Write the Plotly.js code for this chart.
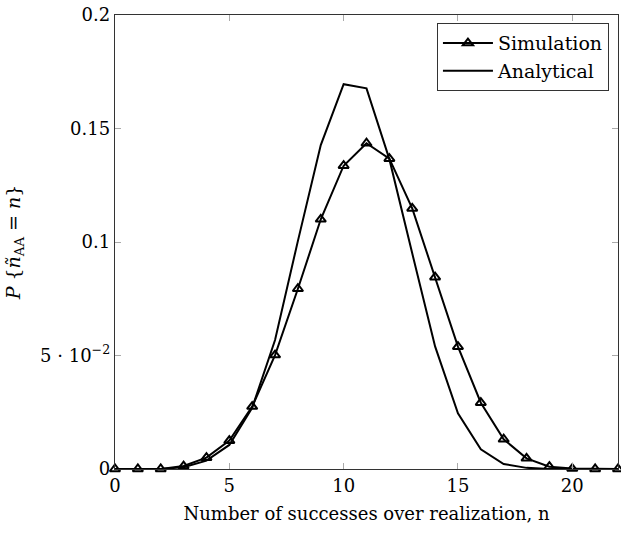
<!DOCTYPE html>
<html>
<head>
<meta charset="utf-8">
<script src="https://cdn.plot.ly/plotly-3.0.1.min.js"></script>
<style>html,body{margin:0;padding:0;background:#fff;}#chart{width:621px;height:542px;}</style>
</head>
<body>
<div id="chart"></div>
<script>
var n = [0,1,2,3,4,5,6,7,8,9,10,11,12,13,14,15,16,17,18,19,20,21,22];
var simulation = [0,0,0,0.0013,0.005,0.0125,0.0275,0.0502,0.0794,0.110,0.1336,0.1435,0.1367,0.1148,0.0845,0.0539,0.0292,0.0131,0.0047,0.001,0.0002,0,0];
var analytical = [0,0,0,0.0008,0.0037,0.0106,0.027,0.0568,0.1005,0.1427,0.1695,0.1677,0.1365,0.095,0.054,0.0245,0.0087,0.0022,0.0005,0,0,0,0];
var yTickVals = [0,0.05,0.1,0.15,0.2];
var yTickText = ['0','5 · 10<sup>−2</sup>','0.1','0.15','0.2'];
var xTickVals = [0,5,10,15,20];

var fam = 'DejaVu Serif, Liberation Serif, serif';
var font = {family:fam, size:18, color:'#000'};

var traces = [
  {x:n, y:simulation, name:'Simulation', mode:'lines+markers', cliponaxis:false,
   line:{color:'#000', width:2},
   marker:{symbol:'triangle-up-open', size:9, color:'#000', line:{color:'#000', width:2}}},
  {x:n, y:analytical, name:'Analytical', mode:'lines', cliponaxis:false,
   line:{color:'#000', width:2}}
];

var layout = {
  width:621, height:542,
  margin:{l:115, r:3, t:15, b:73},
  paper_bgcolor:'#fff', plot_bgcolor:'#fff',
  font:font,
  showlegend:true,
  legend:{x:0.982, y:0.982, xanchor:'right', yanchor:'top', bordercolor:'#333', borderwidth:1,
          bgcolor:'#fff', itemwidth:50, font:{family:fam, size:19, color:'#000'}, tracegroupgap:0},
  xaxis:{range:[0,22], tickvals:xTickVals, ticks:'inside', ticklen:6, tickcolor:'#aaa', tickwidth:1,
         showline:true, linecolor:'#333', linewidth:1.2, mirror:'ticks', showgrid:false, zeroline:false,
         tickfont:{family:fam, size:18, color:'#000'},
         title:{text:'Number of successes over realization, n', font:{family:fam, size:18, color:'#000'}, standoff:12}},
  yaxis:{range:[0,0.2], tickvals:yTickVals, ticktext:yTickText, ticks:'inside', ticklen:6, tickcolor:'#aaa', tickwidth:1,
         showline:true, linecolor:'#333', linewidth:1.2, mirror:'ticks', showgrid:false, zeroline:false,
         tickfont:{family:fam, size:18, color:'#000'},
         title:{text:'<i>P</i> {<i>ñ</i><sub>AA</sub> = <i>n</i>}', font:{family:fam, size:19, color:'#000'}, standoff:14}}
};

Plotly.newPlot('chart', traces, layout, {displayModeBar:false, staticPlot:true});
</script>
</body>
</html>
